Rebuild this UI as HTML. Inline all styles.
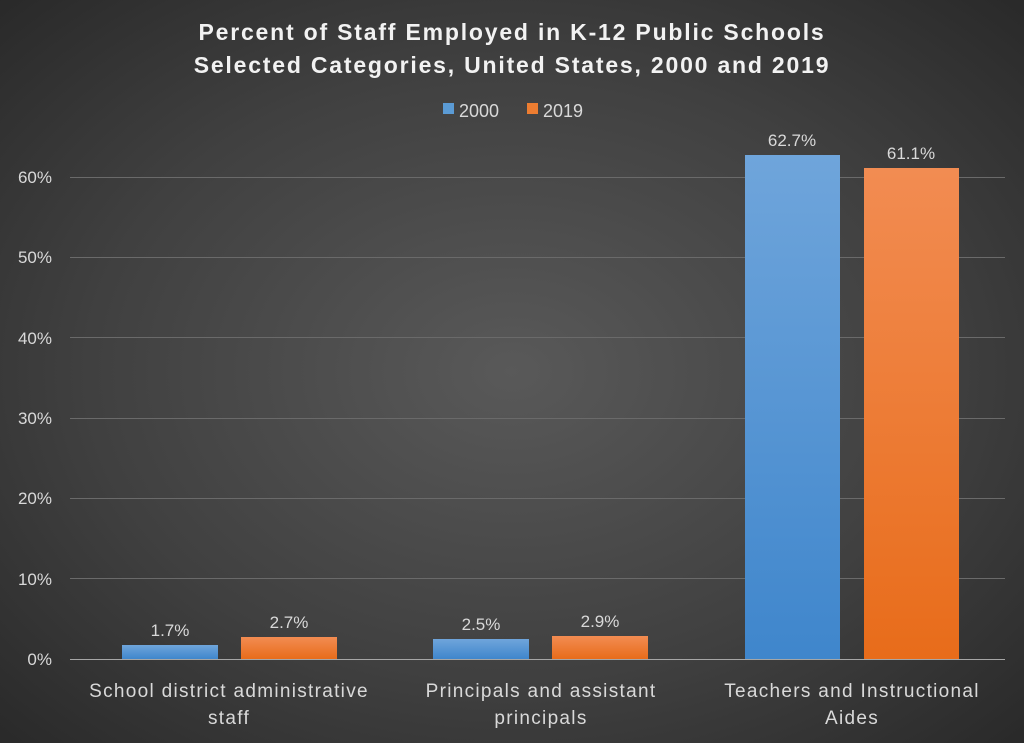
<!DOCTYPE html>
<html><head><meta charset="utf-8"><style>
html,body{margin:0;padding:0}
body{width:1024px;height:743px;overflow:hidden;background:radial-gradient(ellipse 75% 75% at 50% 50%,#595959 0%,#404040 55%,#262626 100%);font-family:"Liberation Sans",sans-serif;}
svg{position:absolute;left:0;top:0}
</style></head><body>
<svg width="1024" height="743" xmlns="http://www.w3.org/2000/svg">
<defs>
<linearGradient id="b" x1="0" y1="0" x2="0" y2="1"><stop offset="0" stop-color="#6fa5db"/><stop offset="1" stop-color="#3f86cc"/></linearGradient>
<linearGradient id="o" x1="0" y1="0" x2="0" y2="1"><stop offset="0" stop-color="#f28c52"/><stop offset="1" stop-color="#e86c1a"/></linearGradient>
</defs>
<g font-family="Liberation Sans, sans-serif" fill="#f2f2f2">
<text x="512" y="40" text-anchor="middle" font-size="23" font-weight="bold" letter-spacing="1.8">Percent of Staff Employed in K-12 Public Schools</text>
<text x="512" y="73" text-anchor="middle" font-size="23" font-weight="bold" letter-spacing="1.8">Selected Categories, United States, 2000 and 2019</text>
<rect x="443" y="103" width="11" height="11" fill="#5b9bd5"/>
<text x="459" y="117" font-size="18" fill="#d9d9d9">2000</text>
<rect x="527" y="103" width="11" height="11" fill="#ed7d31"/>
<text x="543" y="117" font-size="18" fill="#d9d9d9">2019</text>
</g>
<g stroke="#6a6a6a" stroke-width="1">
<line x1="70" y1="578.5" x2="1005" y2="578.5"/>
<line x1="70" y1="498.5" x2="1005" y2="498.5"/>
<line x1="70" y1="418.5" x2="1005" y2="418.5"/>
<line x1="70" y1="337.5" x2="1005" y2="337.5"/>
<line x1="70" y1="257.5" x2="1005" y2="257.5"/>
<line x1="70" y1="177.5" x2="1005" y2="177.5"/>
</g>
<line x1="70" y1="659.5" x2="1005" y2="659.5" stroke="#a6a6a6"/>
<g font-family="Liberation Sans, sans-serif" font-size="17" fill="#d9d9d9" text-anchor="end">
<text x="52" y="665">0%</text><text x="52" y="585">10%</text><text x="52" y="504">20%</text>
<text x="52" y="424">30%</text><text x="52" y="344">40%</text><text x="52" y="263">50%</text><text x="52" y="183">60%</text>
</g>
<rect x="122" y="645" width="96" height="14" fill="url(#b)"/>
<rect x="241" y="637" width="96" height="22" fill="url(#o)"/>
<rect x="433" y="639" width="96" height="20" fill="url(#b)"/>
<rect x="552" y="636" width="96" height="23" fill="url(#o)"/>
<rect x="745" y="155" width="95" height="504" fill="url(#b)"/>
<rect x="864" y="168" width="95" height="491" fill="url(#o)"/>
<g font-family="Liberation Sans, sans-serif" font-size="17" fill="#d9d9d9" text-anchor="middle">
<text x="170" y="636">1.7%</text><text x="289" y="628">2.7%</text>
<text x="481" y="630">2.5%</text><text x="600" y="627">2.9%</text>
<text x="792" y="146">62.7%</text><text x="911" y="159">61.1%</text>
<g font-size="19" letter-spacing="1.3">
<text x="229" y="697">School district administrative</text><text x="229" y="724">staff</text>
<text x="541" y="697">Principals and assistant</text><text x="541" y="724">principals</text>
<text x="852" y="697">Teachers and Instructional</text><text x="852" y="724">Aides</text>
</g></g>
</svg>
</body></html>
